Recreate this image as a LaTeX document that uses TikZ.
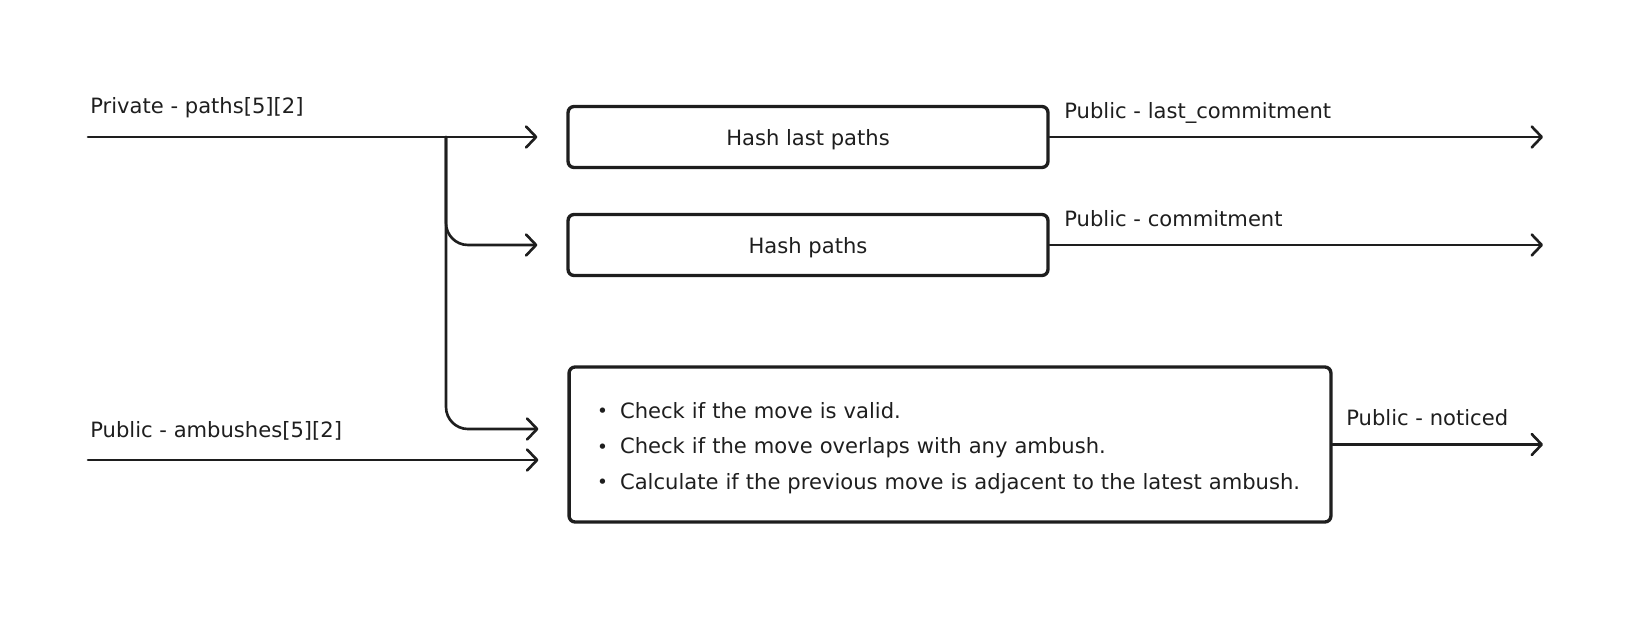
\documentclass[tikz,border=0pt]{standalone}
\usepackage{fontspec}
\setmainfont{DejaVu Sans}
\usetikzlibrary{arrows.meta, positioning, calc}

\definecolor{ink}{HTML}{1E1E1E}
\newcommand{\dotitem}{\makebox[0.46cm][l]{\raisebox{0.5pt}{\fontsize{10.5}{10.5}\selectfont\textbullet}}}
\tikzset{
  txt/.style={font=\fontsize{12}{14}\selectfont, text=ink},
  flow/.style={line width=1.5pt, draw=ink, line cap=round,
    -{Straight Barb[length=0.2cm, width=0.42cm, line cap=round, line join=round]}},
  block/.style={txt, draw=ink, line width=1.9pt, rounded corners=0.12cm,
    minimum width=9.6cm, minimum height=1.22cm},
  lbl/.style={txt, inner sep=0pt, anchor=base west}
}

\begin{document}
\begin{tikzpicture}[x=0.02cm, y=-0.02cm]
  \useasboundingbox (0,0) rectangle (1650,618);
  %
  \node[block, text depth=0cm] (hlast) at (808,137) {Hash last paths};
  \node[block, text depth=0cm] (hpaths) at (808,245) {Hash paths};
  \node[block, minimum width=15.24cm, minimum height=3.1cm, inner xsep=0.56cm,
    text width=14.12cm, align=left, text depth=1.35cm,
    font=\fontsize{12}{20}\selectfont] (checks) at (950,444.5)
    {\dotitem Check if the move is valid.\\
     \dotitem Check if the move overlaps with any ambush.\\
     \dotitem Calculate if the previous move is adjacent to the latest ambush.};
  %
  \coordinate (pin) at (88,137);
  \coordinate (ain) at (88,460);
  \coordinate (fork) at (446,137);
  \coordinate (tap) at (446,429);
  \coordinate (out) at (1543,0);
  %
  \node[lbl] (lpaths) at (90,114) {Private - paths[5][2]};
  \node[lbl] (lambush) at (90,437) {Public - ambushes[5][2]};
  \node[lbl] (llast) at (1064,119) {Public - last\_commitment};
  \node[lbl] (lcommit) at (1064,227) {Public - commitment};
  \node[lbl] (lnotice) at (1346,425) {Public - noticed};
  %
  \draw[flow] (pin) -- ([xshift=-0.58cm]pin -| hlast.west);
  \draw[flow, rounded corners=0.44cm] (fork) |- ([xshift=-0.58cm]hpaths.west);
  \draw[flow, rounded corners=0.44cm] (fork) |- ([xshift=-0.58cm]tap -| checks.west);
  \draw[flow] (ain) -- ([xshift=-0.58cm]ain -| checks.west);
  %
  \draw[flow] (hlast.east) -- (hlast.east -| out);
  \draw[flow] (hpaths.east) -- (hpaths.east -| out);
  \draw[flow] (checks.east) -- (checks.east -| out);
\end{tikzpicture}
\end{document}
